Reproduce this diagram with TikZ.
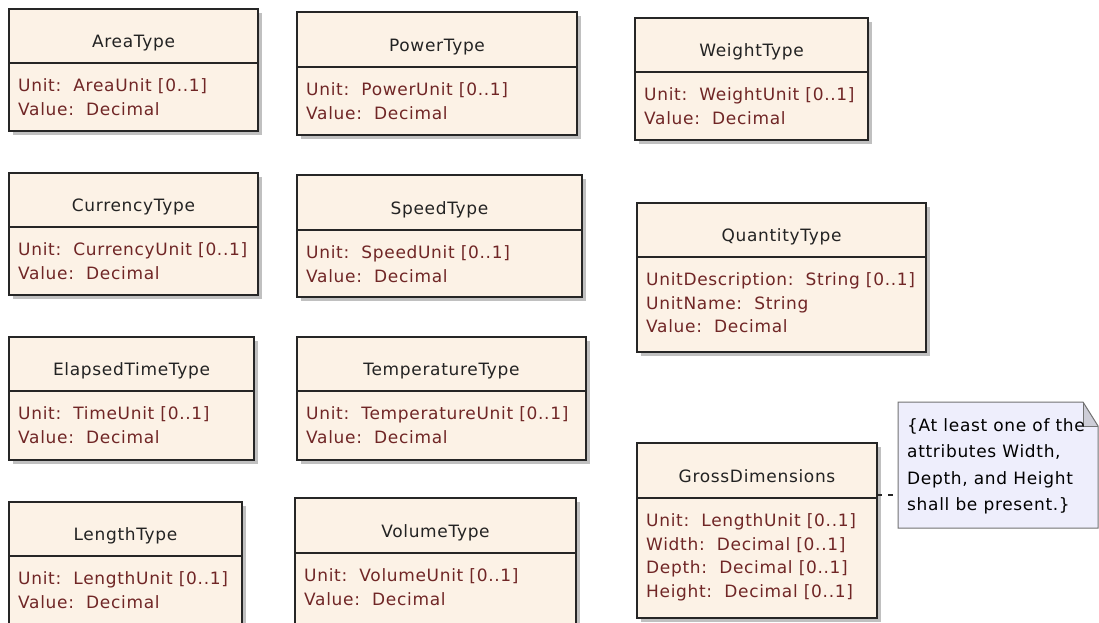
\documentclass[tikz,border=0pt]{standalone}
\usepackage{fontspec}
\newfontfamily\eafont{DejaVu Sans}[LetterSpace=4]
\usetikzlibrary{shadows}

\definecolor{classfill}{RGB}{252,242,230}
\definecolor{attrred}{RGB}{112,38,38}
\definecolor{titlegray}{RGB}{35,35,35}
\definecolor{notefill}{RGB}{238,238,252}
\definecolor{foldgray}{RGB}{205,205,215}

\tikzset{
  classbox/.style={draw=black!85, line width=1.5pt, fill=classfill, inner sep=0pt, outer sep=0pt,
    anchor=north west, drop shadow={shadow xshift=4pt, shadow yshift=-4pt, fill=black!35, opacity=0.7}},
  classline/.style={draw=black!85, line width=1.5pt},
  classname/.style={anchor=base, inner sep=0pt, text=titlegray, font=\eafont\fontsize{17}{20}\selectfont},
  attrlist/.style={anchor=north west, inner sep=0pt, align=left, text=attrred, font=\eafont\fontsize{17}{23.5}\selectfont},
  notebox/.style={inner sep=0pt, outer sep=0pt, anchor=north west},
  notetext/.style={anchor=north west, inner sep=0pt, align=left, text=black, font=\eafont\fontsize{17}{26.5}\selectfont},
  notelink/.style={draw=black!85, line width=1.3pt, dash pattern=on 5pt off 6pt}
}

% name, x, y, width, height, header height, title, attributes
\newcommand{\umlclass}[8]{%
  \node[classbox, minimum width=#4pt, minimum height=#5pt] (#1) at (#2,#3) {};
  \draw[classline] ([yshift=-#6pt]#1.north west) -- ([yshift=-#6pt]#1.north east);
  \node[classname] (#1-name) at ([yshift={-(#6-16)*1pt}]#1.north) {#7};
  \node[attrlist] (#1-attr) at ([xshift=9pt, yshift={-(#6+15.5)*1pt}]#1.north west) {#8};
}

\begin{document}
\begin{tikzpicture}[x=1pt, y=-1pt]
  \path[use as bounding box, fill=white] (0,0) rectangle (1099,622);

  % Left column
  \umlclass{area}{9}{9}{249}{122}{54}{AreaType}{Unit:\ \ AreaUnit [0..1]\\Value:\ \ Decimal}
  \umlclass{currency}{9}{173}{249}{122}{54}{CurrencyType}{Unit:\ \ CurrencyUnit [0..1]\\Value:\ \ Decimal}
  \umlclass{elapsed}{9}{337}{245}{123}{54}{ElapsedTimeType}{Unit:\ \ TimeUnit [0..1]\\Value:\ \ Decimal}
  \umlclass{length}{9}{502}{233}{126}{54}{LengthType}{Unit:\ \ LengthUnit [0..1]\\Value:\ \ Decimal}

  % Middle column
  \umlclass{power}{297}{12}{280}{123}{55}{PowerType}{Unit:\ \ PowerUnit [0..1]\\Value:\ \ Decimal}
  \umlclass{speed}{297}{175}{285}{122}{55}{SpeedType}{Unit:\ \ SpeedUnit [0..1]\\Value:\ \ Decimal}
  \umlclass{temperature}{297}{337}{289}{123}{54}{TemperatureType}{Unit:\ \ TemperatureUnit [0..1]\\Value:\ \ Decimal}
  \umlclass{volume}{295}{498}{281}{128}{55}{VolumeType}{Unit:\ \ VolumeUnit [0..1]\\Value:\ \ Decimal}

  % Right column
  \umlclass{weight}{635}{18}{233}{122}{54}{WeightType}{Unit:\ \ WeightUnit [0..1]\\Value:\ \ Decimal}
  \umlclass{quantity}{637}{203}{289}{149}{54}{QuantityType}{UnitDescription:\ \ String [0..1]\\UnitName:\ \ String\\Value:\ \ Decimal}
  \umlclass{gross}{637}{443}{240}{175}{55}{GrossDimensions}{Unit:\ \ LengthUnit [0..1]\\Width:\ \ Decimal [0..1]\\Depth:\ \ Decimal [0..1]\\Height:\ \ Decimal [0..1]}

  % Constraint note
  \node[notebox, minimum width=200pt, minimum height=126pt] (note) at (898,402) {};
  \fill[notefill] (note.north west) -- ([xshift=-15pt]note.north east) -- ([yshift=-24pt]note.north east)
    -- (note.south east) -- (note.south west) -- cycle;
  \fill[foldgray] ([xshift=-15pt]note.north east) -- ([xshift=-15pt, yshift=-24pt]note.north east)
    -- ([yshift=-24pt]note.north east) -- cycle;
  \draw[black!55, line width=1pt] (note.north west) -- ([xshift=-15pt]note.north east) -- ([yshift=-24pt]note.north east)
    -- (note.south east) -- (note.south west) -- cycle;
  \draw[black!55, line width=1pt] ([xshift=-15pt]note.north east) -- ([xshift=-15pt, yshift=-24pt]note.north east)
    -- ([yshift=-24pt]note.north east);
  \node[notetext] (note-text) at ([xshift=9pt, yshift=-16pt]note.north west)
    {\{At least one of the\\attributes Width,\\Depth, and Height\\shall be present.\}};

  % Link
  \path (gross.east) ++(0,-35.5) coordinate (gross-link);
  \draw[notelink] (gross-link) -- (note.west |- gross-link);
\end{tikzpicture}
\end{document}
